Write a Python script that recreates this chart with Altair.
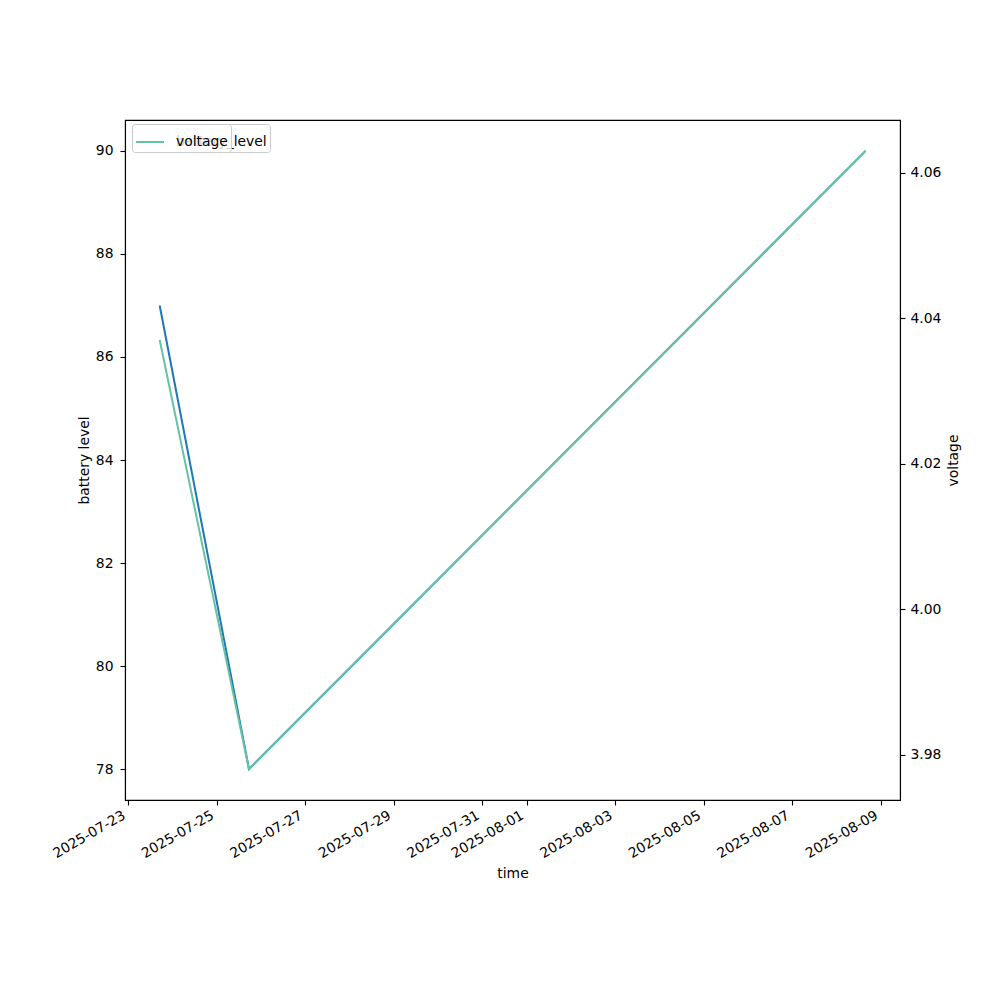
import altair as alt
import pandas as pd

times = ["2025-07-23T17:00:00Z", "2025-07-25T17:24:00Z", "2025-08-08T15:40:00Z"]
battery_level = [87, 78, 90]
voltage = [4.037, 3.978, 4.063]

tick_dates = [(2025, 7, 23), (2025, 7, 25), (2025, 7, 27), (2025, 7, 29), (2025, 7, 31),
              (2025, 8, 1), (2025, 8, 3), (2025, 8, 5), (2025, 8, 7), (2025, 8, 9)]
left_ticks = [78, 80, 82, 84, 86, 88, 90]
right_ticks = [3.98, 4.00, 4.02, 4.04, 4.06]

df = pd.DataFrame({"time": times, "battery_level": battery_level, "voltage": voltage})

FONT = "DejaVu Sans"
FS = 13.9

def dt(y, m, d, h=0, mi=0):
    return alt.DateTime(year=y, month=m, date=d, hours=h, minutes=mi, utc=True)

x_enc = alt.X(
    "time:T",
    scale=alt.Scale(type="utc", domain=[dt(2025, 7, 22, 22, 12), dt(2025, 8, 9, 10, 20)], nice=False),
    axis=alt.Axis(
        values=[dt(*d) for d in tick_dates],
        labelExpr="utcFormat(datum.value, '%Y-%m-%d')",
        labelAngle=-30, labelAlign="right", labelBaseline="top", labelPadding=3,
        labelOffset=-8, labelOverlap=False, labelBound=False, labelFlush=False,
        tickSize=5, grid=False, title="time",
        titleX=387.5, titleY=73, titleBaseline="middle", titleAlign="center",
    ),
)

def legend(z):
    return alt.Legend(title=None, orient="none", legendX=7, legendY=4,
                      symbolType="stroke", symbolStrokeWidth=2, symbolSize=784,
                      fillColor="rgba(255,255,255,0.8)", strokeColor="#cccccc",
                      cornerRadius=3, padding=3, labelOffset=11, labelFontSize=FS,
                      labelFont=FONT, labelColor="black", zindex=z)

base = alt.Chart(df)

battery = base.mark_line(color="#1f77b4", strokeWidth=2).encode(
    x=x_enc,
    y=alt.Y("battery_level:Q",
            scale=alt.Scale(domain=[77.4, 90.6], nice=False, zero=False),
            axis=alt.Axis(values=left_ticks, orient="left", grid=False, tickSize=5,
                          labelPadding=7, title="battery level",
                          titleX=-41, titleY=340, titleAngle=270,
                          titleBaseline="middle", titleAlign="center")),
    color=alt.Color("k:N", scale=alt.Scale(domain=["battery_level"], range=["#1f77b4"]),
                    legend=legend(1)),
).transform_calculate(k="'battery_level'")

volt = base.mark_line(color="#66c2a5", strokeWidth=2).encode(
    x=x_enc,
    y=alt.Y("voltage:Q",
            scale=alt.Scale(domain=[3.97375, 4.06725], nice=False, zero=False),
            axis=alt.Axis(values=right_ticks, orient="right", format=".2f", grid=False, tickSize=5,
                          labelPadding=5, title="voltage",
                          titleX=53, titleY=340, titleAngle=270,
                          titleBaseline="middle", titleAlign="center")),
    color=alt.Color("k:N", scale=alt.Scale(domain=["voltage"], range=["#66c2a5"]),
                    legend=legend(2)),
).transform_calculate(k="'voltage'")

chart = alt.layer(battery, volt).resolve_scale(
    y="independent", color="independent"
).resolve_legend(color="independent").properties(
    width=775, height=680,
    autosize=alt.AutoSizeParams(type="none"),
    padding={"left": 117, "top": 112, "right": 90, "bottom": 180},
).configure_view(
    stroke="black", strokeWidth=1.1
).configure_axis(
    domainColor="black", tickColor="black", labelColor="black", titleColor="black",
    labelFont=FONT, titleFont=FONT, labelFontSize=FS, titleFontSize=FS,
    titleFontWeight="normal", domainWidth=1.1, tickWidth=1.1,
)

chart.save("out.html", embed_options={"renderer": "svg", "actions": False})
